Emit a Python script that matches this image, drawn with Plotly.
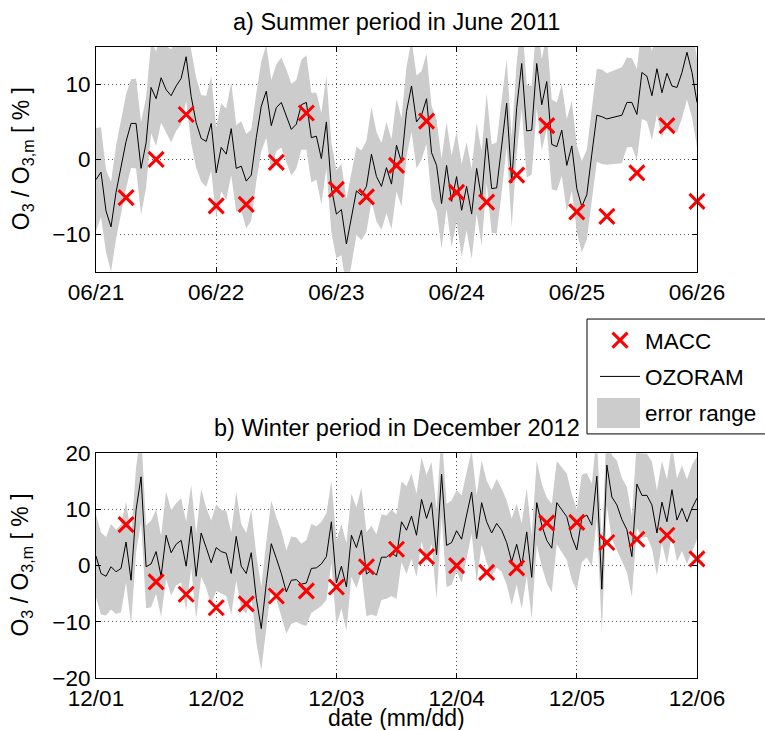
import plotly.graph_objects as go
from plotly.subplots import make_subplots
from datetime import datetime, timedelta

# ---------------- data ----------------
summer_start = "2011-06-21"
winter_start = "2012-12-01"

summer_ticks = ["06/21", "06/22", "06/23", "06/24", "06/25", "06/26"]
winter_ticks = ["12/01", "12/02", "12/03", "12/04", "12/05", "12/06"]

# hourly OZORAM ratio (%), None = missing hour
summer_ozoram = [
    -2.7, -1.7, -6.9, -9.0, -4.4, None, 2.4, 4.8, 4.8, -1.2,
    2.2, 9.6, 8.1, 10.9, 9.3, 8.5, 9.8, 10.8, 13.7, 8.4,
    4.9, 2.8, 2.4, 4.8, -1.8, 1.6, 0.7, 4.1, -1.2, -0.9,
    -2.9, -2.1, 2.9, 7.1, 9.1, 4.5, 6.9, 7.6, 5.8, 4.0,
    4.7, 7.3, 7.6, 2.9, 3.1, 0.1, 5.0, -3.8, -7.3, -6.7,
    -11.3, -7.9, -4.2, -4.8, -3.6, 0.7, -2.3, -3.6, -1.1, -3.3,
    1.9, -0.4, 6.4, 9.8, 5.0, 5.9, 8.1, 0.9, -0.8, -5.9,
    -0.8, -5.6, -2.3, -6.8, -3.6, -7.3, -1.2, -5.2, 2.8, -3.9,
    -3.8, 1.8, 7.5, -3.1, 6.9, 12.8, 3.8, 3.9, 12.8, 7.3,
    10.4, 2.0, 1.7, 3.9, -0.8, 1.8, -3.9, -6.3, -4.7, 0.7,
    5.9, 5.7, 5.4, None, None, 5.9, 7.6, 7.6, 6.0, 11.6,
    11.1, 8.5, 12.1, 8.9, 11.5, 9.8, 9.6, 11.6, 14.3, 11.6,
    7.6,
]
summer_error = [
    6.9, 6.0, 5.5, 6.0, 6.2, None, 6.3, 5.9, 6.0, 6.2,
    6.0, 6.1, 6.3, 6.0, 5.8, 6.2, 6.0, 6.1, 5.9, 6.2,
    6.0, 5.8, 6.1, 6.3, 6.0, 5.9, 6.1, 6.2, 5.8, 6.0,
    6.3, 6.1, 5.9, 6.0, 6.2, 6.1, 5.8, 6.0, 6.2, 6.1,
    5.9, 6.0, 6.3, 6.0, 5.8, 6.1, 6.2, 6.0, 5.9, 6.1,
    6.0, 6.2, 5.9, 6.0, 6.1, 6.3, 6.0, 5.8, 6.1, 6.0,
    6.2, 5.9, 6.0, 6.1, 6.2, 5.9, 6.0, 6.3, 6.1, 6.0,
    5.8, 6.1, 6.0, 6.2, 5.9, 6.0, 6.1, 6.3, 6.0, 5.9,
    6.1, 6.2, 5.8, 6.0, 6.1, 6.0, 6.2, 5.9, 6.0, 6.1,
    6.3, 6.0, 5.9, 6.1, 6.2, 6.0, 5.8, 6.1, 6.0, 6.1,
    6.2, 6.3, 6.1, None, None, 6.4, 6.0, 5.9, 6.1, 6.2,
    6.0, 5.9, 6.1, 6.0, 6.2, 5.9, 6.0, 6.1, 6.3, 6.0,
    5.9,
]
# MACC every 6 hours, starting 06:00 of first day
summer_macc = [-5.1, 0.0, 6.0, -6.2, -6.0, -0.4, 6.2, -4.0, -5.0, -0.8,
               5.1, -4.4, -5.7, -2.1, 4.5, -7.0, -7.6, -1.8, 4.5, -5.6]

winter_ozoram = [
    1.7, -1.4, -1.9, -0.2, -1.1, -0.5, 4.2, -2.6, 9.9, 15.8,
    -0.2, 0.3, 2.5, -1.9, 5.4, 2.3, 3.8, 4.5, -0.1, 7.0,
    -1.9, 5.8, 3.2, 0.5, 3.2, 2.5, 2.2, -1.4, 5.2, -0.1,
    -1.4, 2.3, -5.8, -11.2, -3.2, 3.9, 1.3, -1.4, -4.7, -2.6,
    -2.5, -3.3, -3.1, -0.5, -0.4, 0.3, 1.6, 7.8, -3.1, -0.1,
    -3.8, 5.4, 3.2, 6.3, -1.5, -0.8, -1.7, 1.5, 1.5, 2.3,
    1.6, 7.8, 6.3, 8.8, 5.4, 11.8, 8.4, 11.2, 1.9, 16.3,
    3.6, 4.1, 6.2, 4.7, 9.0, 13.1, 4.8, 11.2, 7.8, 5.8,
    7.5, 6.3, 4.1, 0.7, 3.8, -0.1, 6.0, -2.1, 11.2, 7.2,
    4.5, 3.1, 11.2, 10.0, 8.7, 5.1, 2.8, 8.4, 9.0, 7.2,
    15.9, -4.2, 17.9, 12.2, 10.8, 8.2, 6.4, 1.6, 14.5, 12.5,
    12.5, 10.8, 5.8, 11.3, 7.8, 13.5, 8.1, 10.2, 7.8, 10.2,
    12.0,
]
winter_error = [
    7.4, 7.3, 7.0, 7.6, 7.5, 7.8, 7.2, 7.9, 7.6, 8.0,
    7.4, 7.7, 7.5, 7.2, 7.8, 7.6, 7.3, 7.5, 7.9, 7.4,
    7.6, 7.8, 7.2, 7.5, 7.7, 7.4, 7.6, 7.3, 7.9, 7.5,
    7.2, 7.6, 7.8, 7.4, 7.5, 7.7, 7.3, 7.6, 7.4, 7.8,
    7.5, 7.2, 7.6, 7.9, 7.4, 7.5, 7.7, 7.3, 7.6, 7.5,
    7.8, 7.4, 7.2, 7.6, 7.5, 7.9, 7.3, 7.6, 7.4, 7.7,
    7.5, 7.2, 7.8, 7.6, 7.4, 7.5, 7.7, 7.3, 7.9, 7.6,
    7.4, 7.5, 7.2, 7.8, 7.6, 7.4, 7.7, 7.5, 7.3, 7.6,
    7.9, 7.4, 7.5, 7.7, 7.2, 7.6, 7.8, 7.4, 7.5, 7.3,
    7.6, 7.9, 7.4, 7.5, 7.7, 7.6, 7.2, 7.8, 7.5, 7.4,
    7.6, 7.7, 7.3, 7.5, 7.9, 7.4, 7.6, 7.2, 7.8, 7.5,
    7.4, 7.7, 7.6, 7.3, 7.5, 7.9, 7.4, 7.6, 7.5, 7.7,
    7.4,
]
winter_macc = [7.3, -2.9, -5.1, -7.5, -6.8, -5.4, -4.5, -3.8, -0.2, 2.9,
               1.6, 0.0, -1.2, -0.4, 7.6, 7.7, 4.1, 4.7, 5.4, 1.2]

titles = ["a) Summer period in June 2011", "b) Winter period in December 2012"]
ylabel = "O<sub>3</sub> / O<sub>3,m</sub> [ % ]"
xlabel = "date (mm/dd)"

# ---------------- geometry helpers ----------------
W, H = 765, 730
L, R, T, B = 96, 697, 46.7, 678.3
PW, PH = R - L, B - T


def px(x):
    return (x - L) / PW


def py(y):
    return (B - y) / PH


FONT = "Liberation Sans, Arial, Helvetica, sans-serif"
GRAY = "rgb(204,204,204)"

fig = make_subplots(rows=2, cols=1)

panels = [
    (summer_start, summer_ozoram, summer_error, summer_macc, summer_ticks, [-15, 15], [-10, 0, 10], 1),
    (winter_start, winter_ozoram, winter_error, winter_macc, winter_ticks, [-20, 20], [-20, -10, 0, 10, 20], 2),
]

for start, line, err, macc, ticks, yr, yt, row in panels:
    t0 = datetime.strptime(start, "%Y-%m-%d")
    times = [t0 + timedelta(hours=i) for i in range(len(line))]
    valid = [(t, v, e) for t, v, e in zip(times, line, err) if v is not None]
    bt = [a[0] for a in valid]
    up = [a[1] + a[2] for a in valid]
    lo = [a[1] - a[2] for a in valid]
    first = row == 1
    fig.add_trace(go.Scatter(
        x=bt + bt[::-1], y=up + lo[::-1], fill="toself", fillcolor=GRAY,
        line=dict(width=0, color=GRAY), mode="lines", name="error range",
        legendgroup="err", showlegend=first, legendrank=3, hoverinfo="skip"),
        row=row, col=1)
    fig.add_trace(go.Scatter(
        x=times, y=line, mode="lines", connectgaps=True,
        line=dict(color="black", width=1), name="OZORAM", legendgroup="oz",
        showlegend=first, legendrank=2), row=row, col=1)
    mt = [t0 + timedelta(hours=6 * (k + 1)) for k in range(len(macc))]
    fig.add_trace(go.Scatter(
        x=mt, y=macc, mode="markers", name="MACC", cliponaxis=False,
        legendgroup="macc",
        marker=dict(symbol="x-thin", size=15, line=dict(width=3, color="red"), color="red"),
        showlegend=first, legendrank=1), row=row, col=1)
    tv = [t0 + timedelta(days=d) for d in range(len(ticks))]
    fig.update_xaxes(range=[tv[0], tv[-1]], tickvals=tv, ticktext=ticks,
                     row=row, col=1)
    fig.update_yaxes(range=yr, tickvals=yt, row=row, col=1)

axis_style = dict(
    showline=True, linecolor="black", linewidth=1, mirror="allticks",
    ticks="inside", ticklen=5, tickcolor="black", tickwidth=1,
    showgrid=True, gridcolor="#555", griddash="1px,3px", gridwidth=1,
    zeroline=False, tickfont=dict(size=22.5, color="black", family=FONT),
    layer="above traces",
)
fig.update_xaxes(**axis_style)
fig.update_yaxes(**axis_style)
fig.update_xaxes(tickangle=0)

fig.update_layout(
    xaxis=dict(domain=[0, 1]), xaxis2=dict(domain=[0, 1]),
    yaxis=dict(domain=[py(271.7), 1]), yaxis2=dict(domain=[0, py(453.3)]),
)

ann = [
    dict(text=titles[0], x=px(396.5), y=py(22), xref="paper", yref="paper",
         xanchor="center", yanchor="middle", showarrow=False, font=dict(size=23.5)),
    dict(text=titles[1], x=px(396.5), y=py(428), xref="paper", yref="paper",
         xanchor="center", yanchor="middle", showarrow=False, font=dict(size=23.5)),
    dict(text=xlabel, x=px(396.5), y=py(718), xref="paper", yref="paper",
         xanchor="center", yanchor="middle", showarrow=False, font=dict(size=23)),
    dict(text=ylabel, x=px(22), y=py(159), xref="paper", yref="paper", textangle=-90,
         xanchor="center", yanchor="middle", showarrow=False, font=dict(size=23)),
    dict(text=ylabel, x=px(22), y=py(565.8), xref="paper", yref="paper", textangle=-90,
         xanchor="center", yanchor="middle", showarrow=False, font=dict(size=23)),
]

# legend frame and the error-range swatch (the legend itself is transparent)
shapes = [
    dict(type="rect", xref="paper", yref="paper", x0=px(587), x1=px(775),
         y0=py(434), y1=py(319), fillcolor="white",
         line=dict(color="black", width=1), layer="above"),
    dict(type="rect", xref="paper", yref="paper", x0=px(597), x1=px(640),
         y0=py(428), y1=py(398), fillcolor=GRAY, line=dict(width=0), layer="above"),
]

fig.update_layout(
    width=W, height=H,
    margin=dict(l=L, r=W - R, t=T, b=H - B, autoexpand=False),
    paper_bgcolor="white", plot_bgcolor="white",
    font=dict(family=FONT, size=22, color="black"),
    annotations=ann, shapes=shapes,
    showlegend=True,
    legend=dict(x=px(595), y=py(319), xanchor="left", yanchor="top",
                bgcolor="rgba(0,0,0,0)", borderwidth=0,
                font=dict(size=22.5), itemwidth=40, tracegroupgap=4),
)

fig.write_html("out.html",
               config={"displayModeBar": False},
               post_script="document.body.style.margin='0px';"
                           "document.body.style.overflow='hidden';")
